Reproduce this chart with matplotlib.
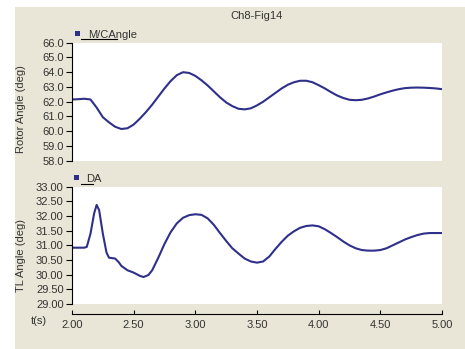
import matplotlib
matplotlib.use("Agg")
import matplotlib.pyplot as plt
from matplotlib.patches import Rectangle
from matplotlib.lines import Line2D

# time axis (s)
t_rotor = [2.00, 2.05, 2.10, 2.15, 2.20, 2.25, 2.30, 2.35, 2.40, 2.45,
           2.50, 2.55, 2.60, 2.65, 2.70, 2.75, 2.80, 2.85, 2.90, 2.95,
           3.00, 3.05, 3.10, 3.15, 3.20, 3.25, 3.30, 3.35, 3.40, 3.45,
           3.50, 3.55, 3.60, 3.65, 3.70, 3.75, 3.80, 3.85, 3.90, 3.95,
           4.00, 4.05, 4.10, 4.15, 4.20, 4.25, 4.30, 4.35, 4.40, 4.45,
           4.50, 4.55, 4.60, 4.65, 4.70, 4.75, 4.80, 4.85, 4.90, 4.95, 5.00]
rotor_angle = [62.15, 62.17, 62.20, 62.15, 61.60, 60.95, 60.60, 60.30, 60.15, 60.20,
               60.45, 60.85, 61.30, 61.80, 62.35, 62.90, 63.40, 63.80, 64.00, 63.95,
               63.75, 63.45, 63.10, 62.70, 62.30, 61.95, 61.70, 61.52, 61.48, 61.55,
               61.75, 62.00, 62.30, 62.60, 62.90, 63.15, 63.32, 63.42, 63.42, 63.32,
               63.12, 62.90, 62.65, 62.42, 62.25, 62.13, 62.10, 62.13, 62.22, 62.35,
               62.50, 62.63, 62.75, 62.85, 62.92, 62.95, 62.96, 62.95, 62.93, 62.90, 62.85]

t_tl = [2.00, 2.05, 2.10, 2.12, 2.15, 2.18, 2.20, 2.22, 2.25, 2.28,
        2.30, 2.35, 2.38, 2.40, 2.45, 2.50, 2.55, 2.58, 2.62, 2.65,
        2.70, 2.75, 2.80, 2.85, 2.90, 2.95, 3.00, 3.05, 3.10, 3.15,
        3.20, 3.25, 3.30, 3.35, 3.40, 3.45, 3.50, 3.55, 3.60, 3.65,
        3.70, 3.75, 3.80, 3.85, 3.90, 3.95, 4.00, 4.05, 4.10, 4.15,
        4.20, 4.25, 4.30, 4.35, 4.40, 4.45, 4.50, 4.55, 4.60, 4.65,
        4.70, 4.75, 4.80, 4.85, 4.90, 4.95, 5.00]
tl_angle = [30.92, 30.92, 30.92, 30.95, 31.40, 32.10, 32.38, 32.20, 31.40, 30.75,
            30.58, 30.55, 30.42, 30.30, 30.15, 30.07, 29.96, 29.92, 29.99, 30.15,
            30.58, 31.05, 31.45, 31.75, 31.94, 32.03, 32.06, 32.04, 31.92, 31.70,
            31.42, 31.15, 30.90, 30.72, 30.55, 30.45, 30.41, 30.45, 30.62, 30.88,
            31.12, 31.33, 31.48, 31.60, 31.66, 31.68, 31.65, 31.55, 31.42, 31.28,
            31.13, 31.00, 30.90, 30.84, 30.82, 30.82, 30.84, 30.90, 31.00, 31.10,
            31.20, 31.28, 31.35, 31.40, 31.42, 31.42, 31.42]

rotor_ticks = [58.0, 59.0, 60.0, 61.0, 62.0, 63.0, 64.0, 65.0, 66.0]
tl_ticks = [29.0, 29.5, 30.0, 30.5, 31.0, 31.5, 32.0, 32.5, 33.0]
t_ticks = [2.0, 2.5, 3.0, 3.5, 4.0, 4.5, 5.0]

W, H = 465, 349
BG = "#E9E6D7"
LINE = "#2E3089"
TXT = "#333333"

plt.rcParams["font.family"] = ["Liberation Sans", "DejaVu Sans"]
plt.rcParams["font.size"] = 8

fig = plt.figure(figsize=(W / 100, H / 100), dpi=100, facecolor="white")


def fx(x):
    return x / W


def fy(y):
    return 1 - y / H


fig.add_artist(Rectangle((fx(15), 0), 1 - fx(15), fy(7), transform=fig.transFigure,
                         facecolor=BG, edgecolor="none", zorder=0))

ax1 = fig.add_axes([fx(72), fy(160.7), fx(442) - fx(72), fy(42.7) - fy(160.7)])
ax2 = fig.add_axes([fx(72), fy(304), fx(442) - fx(72), fy(186.7) - fy(304)])

ax1.plot(t_rotor, rotor_angle, color=LINE, lw=1.5, solid_joinstyle="round")
ax2.plot(t_tl, tl_angle, color=LINE, lw=1.5, solid_joinstyle="round")

for ax in (ax1, ax2):
    ax.set_facecolor("white")
    ax.set_xlim(2.0, 5.0)
    for s in ("top", "right"):
        ax.spines[s].set_visible(False)
    ax.spines["left"].set_color("black")
    ax.tick_params(axis="y", direction="out", length=4, width=0.8, colors="black",
                   labelcolor=TXT, labelsize=8, pad=2)

ax1.set_ylim(58, 66)
ax1.set_yticks(rotor_ticks)
ax1.set_yticklabels([f"{v:.1f}" for v in rotor_ticks])
ax1.spines["bottom"].set_visible(False)
ax1.tick_params(axis="x", bottom=False, labelbottom=False)

ax2.set_ylim(29, 33)
ax2.set_yticks(tl_ticks)
ax2.set_yticklabels([f"{v:.2f}" for v in tl_ticks])
ax2.spines["bottom"].set_position(("outward", 7.2))
ax2.set_xticks(t_ticks)
ax2.set_xticklabels([f"{v:.2f}" for v in t_ticks])
ax2.tick_params(axis="x", direction="in", length=3, width=0.8, colors="black",
                labelcolor=TXT, labelsize=8, pad=4)

# labels and title
fig.text(fx(256), fy(16), "Ch8-Fig14", ha="center", va="center", color=TXT, fontsize=8)
fig.text(fx(21), fy(109), "Rotor Angle (deg)", rotation=90, ha="center", va="center",
         color=TXT, fontsize=8)
fig.text(fx(21), fy(256), "TL Angle (deg)", rotation=90, ha="center", va="center",
         color=TXT, fontsize=8)
fig.text(fx(39), fy(321), "t(s)", ha="center", va="center", color=TXT, fontsize=8)

# legend entries
for mx, my, tx, ty, label, ux0, ux1, uy in [
        (77, 33, 88, 37.7, "M/CAngle", 81, 117, 39.3),
        (76, 177.5, 86, 182.3, "DA", 81, 93, 183.7)]:
    fig.add_artist(Rectangle((fx(mx - 2.5), fy(my + 2.5)), 5 / W, 5 / H,
                             transform=fig.transFigure, facecolor=LINE, edgecolor="none"))
    fig.text(fx(tx), fy(ty), label, ha="left", va="baseline", color=TXT, fontsize=8)
    fig.add_artist(Line2D([fx(ux0), fx(ux1)], [fy(uy), fy(uy)], transform=fig.transFigure,
                          color="black", lw=0.8))

fig.savefig("out.png", dpi=100, facecolor="white")
